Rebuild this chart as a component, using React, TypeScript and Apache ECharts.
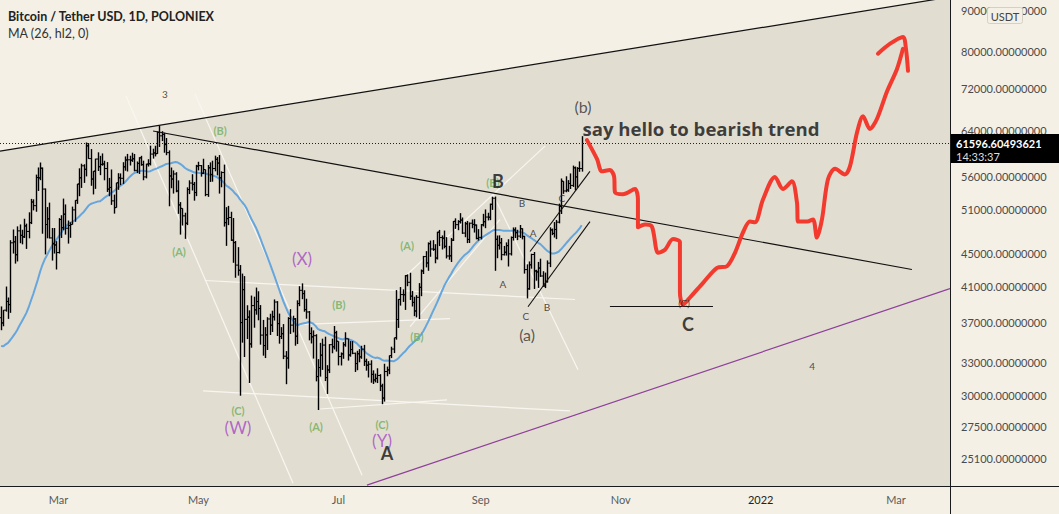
import React, { useEffect, useRef } from 'react';
import * as echarts from 'echarts';

// ---------- data ----------
const barsStart = '2021-01-09'; // first bar (used to warm up the MA)
const viewStart = '2021-02-04'; // first visible day
const viewDays = 414; // visible days incl. empty future area

// [open, high, low, close]
const jan2021 = [
  [40150, 41350, 38720, 40100], [40100, 41420, 35110, 38150], [38150, 38260, 30420, 35400], [35400, 36630, 32530, 34050],
  [34050, 37850, 32380, 37370], [37370, 40100, 36700, 39140], [39140, 39700, 34410, 36770], [36770, 37950, 35360, 36010],
  [36010, 36850, 33850, 35820], [35820, 37400, 34800, 36630], [36630, 37850, 35850, 35890], [35890, 36420, 33400, 35470],
  [35470, 35600, 30070, 30850], [30850, 33830, 28850, 33010], [33010, 33460, 31390, 32070], [32070, 32940, 30900, 32280],
  [32280, 34880, 31910, 32250], [32250, 32930, 30840, 32510], [32510, 32560, 29240, 30430], [30430, 33860, 29870, 33400],
  [33400, 38530, 31920, 34260], [34260, 34880, 32840, 34260], [34260, 34290, 32300, 33110],
];
const feb2021 = [
  [33110, 34720, 32300, 33520], [33520, 35980, 33420, 35510], [35510, 37660, 35360, 37470], [37470, 38700, 36160, 36920],
  [36920, 38300, 36570, 38290], [38290, 40960, 38130, 39250], [39250, 39700, 37350, 38900], [38900, 46750, 38000, 46400],
  [46400, 48200, 45000, 46530], [46530, 47310, 43730, 44850], [44850, 48630, 44000, 48010], [48010, 48900, 46350, 47400],
  [47400, 48160, 46200, 47200], [47200, 49700, 47050, 48690], [48690, 49010, 45600, 47930], [47930, 50620, 47000, 49150],
  [49150, 52600, 48950, 52130], [52130, 52530, 50900, 51590], [51590, 56370, 50700, 55900], [55900, 57530, 53800, 55840],
  [55840, 58350, 55480, 57410], [57410, 57530, 47620, 54090], [54090, 54180, 44890, 48890], [48890, 51380, 47000, 49680],
  [49680, 52040, 46980, 47050], [47050, 48400, 44110, 46280], [46280, 48400, 45000, 46120], [46120, 46620, 43000, 45130],
];
const mar2021 = [
  [45130, 49790, 45000, 49590], [49590, 50200, 47050, 48440], [48440, 52640, 48100, 50350], [50350, 51770, 47500, 48370],
  [48370, 49450, 46300, 48750], [48750, 49200, 47070, 48880], [48880, 51450, 48880, 50970], [50970, 52400, 49270, 52380],
  [52380, 54900, 51850, 54880], [54880, 57390, 53000, 55860], [55860, 58150, 54270, 57800], [57800, 58060, 55050, 57230],
  [57230, 61780, 56080, 61190], [61190, 61680, 58960, 59000], [59000, 60630, 54600, 55660], [55660, 56940, 53270, 56930],
  [56930, 58980, 54120, 58930], [58930, 60070, 56950, 57650], [57650, 59470, 56280, 58030], [58030, 59880, 57820, 58100],
  [58100, 58640, 55460, 57350], [57350, 58420, 53650, 54080], [54080, 55840, 53000, 54340], [54340, 57200, 51700, 52300],
  [52300, 53240, 50430, 51300], [51300, 55070, 51300, 55070], [55070, 56600, 53970, 55860], [55860, 56560, 54700, 55780],
  [55780, 58400, 54900, 57630], [57630, 59370, 57000, 58770], [58770, 59800, 56870, 58800],
];
const apr2021 = [
  [58800, 59490, 57850, 58740], [58740, 60000, 58450, 58970], [58970, 59790, 56900, 57060], [57060, 58520, 56600, 58200],
  [58200, 59240, 56480, 59130], [59130, 59470, 57810, 57990], [57990, 58650, 55470, 56000], [56000, 58150, 55770, 58080],
  [58080, 58900, 57680, 58140], [58140, 61220, 57870, 59770], [59770, 60690, 59000, 59960], [59960, 61200, 59370, 59840],
  [59840, 63770, 59800, 63580], [63580, 64850, 61000, 62960], [62960, 63800, 62020, 63200], [63200, 63520, 60000, 61410],
  [61410, 62570, 59580, 60010], [60010, 60400, 51500, 56150], [56150, 57520, 54220, 55660], [55660, 57050, 53400, 56470],
  [56470, 56760, 53600, 53800], [53800, 55450, 50400, 51700], [51700, 52120, 47500, 51190], [51190, 51200, 48750, 50110],
  [50110, 50560, 46930, 49070], [49070, 54360, 48810, 54020], [54020, 55460, 53320, 55030], [55030, 56430, 53870, 54820],
  [54820, 55200, 52330, 53560], [53560, 57960, 53010, 57750],
];
const may2021 = [
  [57750, 58470, 57050, 57830], [57830, 57930, 56040, 56580], [56580, 58980, 56460, 57190], [57190, 57200, 53000, 53240],
  [53240, 57940, 52900, 57470], [57470, 58370, 55200, 56400], [56400, 58650, 55240, 57350], [57350, 59500, 56900, 58880],
  [58880, 59260, 56250, 58250], [58250, 59600, 53400, 55860], [55860, 56900, 54370, 56700], [56700, 58000, 48600, 49150],
  [49150, 51370, 46000, 49720], [49720, 51560, 48800, 49880], [49880, 50700, 46650, 46760], [46760, 49800, 43830, 46430],
  [46430, 46640, 42000, 43540], [43540, 45830, 42250, 42910], [42910, 43550, 30000, 36960], [36960, 42500, 34900, 40600],
  [40600, 42200, 33500, 37300], [37300, 38830, 35260, 37540], [37540, 38270, 31110, 34770], [34770, 39920, 34400, 38790],
  [38790, 39790, 36420, 38320], [38320, 40840, 37800, 39240], [39240, 40410, 37200, 38470], [38470, 38850, 34700, 35660],
  [35660, 37240, 33630, 34610], [34610, 36480, 33400, 35680], [35680, 37530, 34180, 37340],
];
const jun2021 = [
  [37340, 37900, 35670, 36690], [36690, 38230, 35980, 37570], [37570, 39480, 37170, 39190], [39190, 39290, 35570, 36850],
  [36850, 37920, 34800, 35520], [35520, 36480, 35260, 35800], [35800, 36800, 33300, 33580], [33580, 34070, 31000, 33400],
  [33400, 37530, 32400, 37390], [37390, 38400, 35780, 36690], [36690, 37690, 35940, 37340], [37340, 37440, 34600, 35550],
  [35550, 39380, 34760, 39020], [39020, 41000, 38730, 40520], [40520, 41330, 39510, 40140], [40140, 40530, 38120, 38350],
  [38350, 39560, 37370, 38090], [38090, 38200, 35130, 35820], [35820, 36460, 34820, 35480], [35480, 36140, 33350, 35600],
  [35600, 35750, 31250, 31680], [31680, 33300, 28800, 32510], [32510, 34880, 31680, 33680], [33680, 35300, 32290, 34660],
  [34660, 35500, 31280, 31590], [31590, 32730, 30150, 32280], [32280, 34750, 32000, 34700], [34700, 35300, 33860, 34490],
  [34490, 36600, 34230, 35910], [35910, 36100, 34020, 35040],
];
const jul2021 = [
  [35040, 35040, 32710, 33540], [33540, 33940, 32700, 33800], [33800, 34950, 33330, 34690], [34690, 35950, 34500, 35290],
  [35290, 35290, 33160, 33690], [33690, 35060, 33530, 34220], [34220, 35060, 33770, 33860], [33860, 33920, 32100, 32880],
  [32880, 34100, 32260, 33810], [33810, 34260, 33000, 33510], [33510, 34590, 33330, 34260], [34260, 34680, 32660, 33090],
  [33090, 33340, 32220, 32730], [32730, 33110, 31600, 32820], [32820, 33190, 31130, 31880], [31880, 32250, 31020, 31380],
  [31380, 31950, 31160, 31520], [31520, 32440, 31100, 31780], [31780, 31900, 30400, 30840], [30840, 31040, 29280, 29800],
  [29800, 32860, 29500, 32140], [32140, 32600, 31710, 32290], [32290, 33650, 31900, 33640], [33640, 34500, 33400, 34270],
  [34270, 35400, 33880, 35400], [35400, 40550, 35200, 37280], [37280, 39540, 36400, 39480], [39480, 40900, 38790, 40030],
  [40030, 40630, 39200, 40010], [40010, 42320, 38320, 42240], [42240, 42410, 41000, 41460],
];
const aug2021 = [
  [41460, 42600, 39420, 39850], [39850, 40450, 38690, 39150], [39150, 39780, 37640, 38200], [38200, 39970, 37510, 39720],
  [39720, 41360, 37330, 40870], [40870, 43000, 39850, 42820], [42820, 44700, 42450, 44610], [44610, 45310, 43260, 43810],
  [43810, 46460, 42840, 46290], [46290, 46700, 44590, 45590], [45590, 46760, 45350, 45550], [45550, 46220, 43770, 44430],
  [44430, 47890, 44240, 47830], [47830, 48140, 45970, 47100], [47100, 47390, 45520, 47020], [47020, 48050, 45680, 45940],
  [45940, 47160, 44380, 44690], [44690, 46000, 44210, 44710], [44710, 47040, 43930, 46760], [46760, 49380, 46640, 49340],
  [49340, 49760, 48280, 48870], [48870, 49500, 48100, 49290], [49290, 50500, 49030, 49510], [49510, 49880, 47600, 47710],
  [47710, 49260, 47150, 48990], [48990, 49380, 46360, 46850], [46850, 49170, 46380, 49070], [49070, 49600, 48370, 48900],
  [48900, 49640, 47780, 48810], [48810, 48900, 46860, 46990], [46990, 48250, 46700, 47130],
];
const sep2021 = [
  [47130, 48950, 46850, 48850], [48850, 50400, 48620, 49280], [49280, 51040, 48380, 49940], [49940, 50560, 49460, 49920],
  [49920, 51900, 49500, 51790], [51790, 52920, 50970, 52700], [52700, 52950, 42840, 46870], [46870, 47380, 44410, 46080],
  [46080, 47400, 45510, 46400], [46400, 47040, 44150, 44850], [44850, 45990, 44750, 45170], [45170, 46460, 44740, 46030],
  [46030, 46880, 43370, 44960], [44960, 47250, 44750, 47110], [47110, 48480, 46700, 48140], [48140, 48500, 47040, 47760],
  [47760, 48160, 46760, 47300], [47300, 48820, 47050, 48310], [48310, 48370, 46860, 47260], [47260, 47340, 42500, 42990],
  [42990, 43640, 39600, 40690], [40690, 44000, 40580, 43580], [43580, 44980, 43100, 44880], [44880, 45200, 40680, 42820],
  [42820, 42970, 41650, 42700], [42700, 43940, 40800, 43180], [43180, 44350, 42100, 42210], [42210, 42790, 40930, 41030],
  [41030, 42620, 40780, 41520], [41520, 44130, 41420, 43790],
];
const oct2021 = [
  [43790, 48500, 43290, 48140], [48140, 48330, 47430, 47660], [47660, 49230, 47100, 48200], [48200, 49530, 46890, 49220],
  [49220, 51890, 49050, 51470], [51470, 55750, 50380, 55320], [55320, 55330, 53360, 53800], [53800, 56100, 53600, 53950],
  [53950, 55490, 53660, 54960], [54960, 56560, 54100, 54660], [54660, 57840, 54420, 57470], [57470, 57680, 53900, 56000],
  [56000, 57580, 54290, 57370], [57370, 58530, 56820, 57350], [57350, 62900, 56850, 61596.6],
];

const maPeriod = 26;
const lastPrice = 61596.60493621;
const lastPriceText = '61596.60493621';
const clockText = '14:33:37';
const yMin = 23186;
const yMax = 92763;
const yTicks = [90000, 80000, 72000, 64000, 56000, 51000, 45000, 41000, 37000, 33000, 30000, 27500, 25100];
const xTickLabels: Record<string, string> = {
  '2021-03-01': 'Mar', '2021-05-01': 'May', '2021-07-01': 'Jul', '2021-09-01': 'Sep',
  '2021-11-01': 'Nov', '2022-01-01': '2022', '2022-03-01': 'Mar',
};

// drawings, in [day index from viewStart, price]
const upperTrend = [[-0.5, 60280], [413.5, 93550]];
const downTrend = [[66.2, 63840], [396.9, 43000]];
const purpleTrend = [[159.4, 23240], [413.5, 40720]];
const targetLevel = [[265.3, 38670], [310.2, 38670]];
const channelUpper = [[230.5, 45270], [256.6, 56900]];
const channelLower = [[229.6, 38670], [256.6, 49300]];
const whiteLines = [
  [[54.4, 70560], [127.2, 23370]],
  [[84.5, 70970], [157.3, 23910]],
  [[88.8, 41670], [250.1, 39470]],
  [[88.0, 30410], [247.9, 28720]],
  [[139.0, 28880], [194.3, 29640]],
  [[128.9, 36740], [195.6, 37370]],
  [[176.0, 42150], [237.0, 61150]],
  [[178.2, 36530], [217.4, 49600]],
  [[214.3, 53300], [251.4, 32300]],
];
const redPath = [
  [255.3, 62200], [259.7, 58900], [261.8, 56900], [265.3, 57100], [267.1, 56100], [267.5, 53600], [271.0, 53300],
  [276.2, 54100], [277.5, 52500], [277.5, 48500], [280.6, 48900], [283.6, 48600], [286.3, 45100], [289.3, 45500],
  [292.8, 46900], [295.8, 46500], [295.8, 40300], [297.1, 38900], [300.2, 39700], [305.9, 41400], [312.0, 43200],
  [316.3, 43400], [319.8, 45100], [323.3, 47800], [326.3, 49300], [328.5, 49200], [332.0, 52500], [337.2, 56000],
  [340.7, 54100], [344.6, 55300], [346.8, 52100], [347.3, 49300], [351.2, 49300], [353.8, 49600], [355.5, 47100],
  [357.7, 49600], [360.3, 55600], [363.4, 57300], [367.7, 56400], [369.9, 57700], [373.0, 63600], [375.6, 66600],
  [378.6, 64200], [381.7, 66100], [386.0, 71400], [390.4, 76200], [393.0, 80700],
];
const redArrow = [[382.1, 79600], [387.4, 81900], [393.0, 83500], [394.3, 80700], [395.2, 75800]];

// [day index, price, text, style]
const labelsData: [number, number, string, string][] = [
  [71.4, 70970, '3', 'small'],
  [95.4, 63840, '(B)', 'green'],
  [77.5, 45270, '(A)', 'green'],
  [131.1, 44380, '(X)', 'purple'],
  [147.2, 38900, '(B)', 'green'],
  [103.2, 28720, '(C)', 'green'],
  [103.2, 27430, '(W)', 'purple'],
  [137.2, 27510, '(A)', 'green'],
  [166.0, 27670, '(C)', 'green'],
  [166.0, 26430, '(Y)', 'purple'],
  [168.1, 25470, 'A', 'big'],
  [176.9, 46060, '(A)', 'green'],
  [181.2, 35500, '(B)', 'green'],
  [214.3, 55160, '(B)', 'green'],
  [216.5, 55320, 'B', 'big'],
  [227.0, 51940, 'B', 'small'],
  [231.8, 47660, 'A', 'small'],
  [218.7, 41310, 'A', 'small'],
  [228.7, 37690, 'C', 'small'],
  [237.9, 38670, 'B', 'small'],
  [229.2, 35700, '(a)', 'mid'],
  [244.4, 52690, 'C', 'small'],
  [253.6, 68370, '(b)', 'mid'],
  [297.6, 39120, '(C)', 'small'],
  [299.3, 36850, 'C', 'big'],
  [353.4, 32670, '4', 'small'],
];
const headline: [number, number, string] = [253.1, 64380, 'say hello to bearish trend'];

// ---------- helpers ----------
const DAY = 86400000;
const isoToMs = (s: string) => Date.UTC(+s.slice(0, 4), +s.slice(5, 7) - 1, +s.slice(8, 10));
const msToIso = (ms: number) => new Date(ms).toISOString().slice(0, 10);

const FONT = 'Lato, "Open Sans", sans-serif';
const HEAD_FONT = '"Open Sans", "Noto Sans", sans-serif';

const labelStyles: Record<string, any> = {
  small: { color: '#222', fontSize: 10 },
  green: { color: '#6eae5c', fontSize: 11, fontWeight: 'bold' },
  purple: { color: '#a348c4', fontSize: 17 },
  big: { color: '#111', fontSize: 18, fontWeight: 'bold' },
  mid: { color: '#333', fontSize: 16 },
};

export default function App() {
  const ref = useRef<HTMLDivElement>(null);

  useEffect(() => {
    if (!ref.current) return;
    const chart = echarts.init(ref.current, undefined, { renderer: 'svg' });

    const bars = [...jan2021, ...feb2021, ...mar2021, ...apr2021, ...may2021, ...jun2021, ...jul2021, ...aug2021, ...sep2021, ...oct2021];
    const offset = Math.round((isoToMs(viewStart) - isoToMs(barsStart)) / DAY);
    const startMs = isoToMs(viewStart);
    const categories: string[] = [];
    for (let k = 0; k < viewDays; k++) categories.push(msToIso(startMs + k * DAY));

    const barData: number[][] = [];
    const maData: (number | null)[] = [];
    for (let j = offset; j < bars.length; j++) {
      const [o, h, l, c] = bars[j];
      barData.push([j - offset, o, h, l, c]);
      let s = 0;
      for (let k = j - maPeriod + 1; k <= j; k++) s += (bars[k][1] + bars[k][2]) / 2;
      maData.push(s / maPeriod);
    }

    const lineItem = (coords: number[][], color: string, width = 1, type: any = 'solid') => ({
      coords, lineStyle: { color, width, type, opacity: 1 },
    });

    const option: any = {
      animation: false,
      backgroundColor: '#f4f0e5',
      grid: { left: 0, right: 109, top: 0, bottom: 28, containLabel: false },
      xAxis: [
        {
          type: 'category',
          data: categories,
          boundaryGap: true,
          axisLine: { show: false },
          axisTick: { show: false },
          splitLine: { show: false },
          axisLabel: {
            interval: (_i: number, v: string) => !!xTickLabels[v],
            formatter: (v: string) => (v === '2022-01-01' ? '{y|2022}' : xTickLabels[v] || ''),
            color: '#5a5a5a',
            fontSize: 11,
            fontFamily: FONT,
            margin: 8,
            rich: { y: { color: '#222', fontSize: 11, fontFamily: FONT } },
          },
        },
        { type: 'value', min: -0.5, max: viewDays - 0.5, show: false },
      ],
      yAxis: {
        type: 'log',
        logBase: 10,
        min: yMin,
        max: yMax,
        position: 'right',
        axisLine: { show: false },
        axisTick: { show: false },
        axisLabel: { show: false },
        splitLine: { show: false },
      },
      series: [
        {
          type: 'line',
          xAxisIndex: 1,
          data: upperTrend,
          symbol: 'none',
          lineStyle: { width: 0 },
          areaStyle: { color: '#e2ddd1', opacity: 1, origin: 'start' },
          z: 0,
          silent: true,
        },
        {
          type: 'lines',
          coordinateSystem: 'cartesian2d',
          xAxisIndex: 1,
          data: whiteLines.map((c) => lineItem(c, '#f8f6f1', 1.2)),
          z: 1,
          silent: true,
        },
        {
          type: 'line',
          data: maData,
          symbol: 'none',
          lineStyle: { color: '#66a6dc', width: 2 },
          z: 2,
          silent: true,
        },
        {
          type: 'custom',
          data: barData,
          encode: { x: 0, y: [1, 2, 3, 4] },
          z: 3,
          silent: true,
          renderItem: (_p: any, api: any) => {
            const idx = api.value(0);
            const o = api.coord([idx, api.value(1)]);
            const h = api.coord([idx, api.value(2)]);
            const l = api.coord([idx, api.value(3)]);
            const c = api.coord([idx, api.value(4)]);
            const x = Math.round(h[0]) + 0.5;
            return {
              type: 'group',
              children: [
                { type: 'line', shape: { x1: x, y1: h[1], x2: x, y2: l[1] }, style: { stroke: '#000', lineWidth: 1.4 } },
                { type: 'line', shape: { x1: x - 1.5, y1: o[1], x2: x, y2: o[1] }, style: { stroke: '#000', lineWidth: 1 } },
                { type: 'line', shape: { x1: x, y1: c[1], x2: x + 1.5, y2: c[1] }, style: { stroke: '#000', lineWidth: 1 } },
              ],
            };
          },
        },
        {
          type: 'lines',
          coordinateSystem: 'cartesian2d',
          xAxisIndex: 1,
          data: [
            lineItem(upperTrend, '#111', 1.2),
            lineItem(downTrend, '#111', 1.2),
            lineItem(purpleTrend, '#8e3f9a', 1.2),
            lineItem(targetLevel, '#111', 1.2),
            lineItem(channelUpper, '#111', 1.1),
            lineItem(channelLower, '#111', 1.1),
            lineItem([[-0.5, lastPrice], [viewDays - 0.5, lastPrice]], '#222', 1, [1, 2]),
          ],
          z: 4,
          silent: true,
        },
        {
          type: 'line',
          xAxisIndex: 1,
          data: redPath,
          symbol: 'none',
          smooth: 0.3,
          lineStyle: { color: '#f23a2e', width: 4, cap: 'round', join: 'round' },
          z: 6,
          silent: true,
        },
        {
          type: 'line',
          xAxisIndex: 1,
          data: redArrow,
          symbol: 'none',
          smooth: 0.3,
          lineStyle: { color: '#f23a2e', width: 4, cap: 'round', join: 'round' },
          z: 6,
          silent: true,
        },
        {
          type: 'scatter',
          xAxisIndex: 1,
          symbolSize: 1,
          itemStyle: { color: 'rgba(0,0,0,0)' },
          z: 7,
          silent: true,
          data: [
            ...labelsData.map(([i, p, t, s]) => ({
              value: [i, p],
              label: { show: true, position: 'inside', formatter: t, fontFamily: FONT, ...labelStyles[s] },
            })),
            {
              value: [headline[0], headline[1]],
              label: {
                show: true, position: 'right', distance: 0, formatter: headline[2],
                fontFamily: HEAD_FONT, fontSize: 18.6, fontWeight: 'bold', color: '#111',
              },
            },
          ],
        },
      ],
    };

    chart.setOption(option);

    const yPix = (v: number) => chart.convertToPixel({ yAxisIndex: 0 }, v) as number;
    const priceY = yPix(lastPrice);
    const graphic: any[] = [
      { type: 'text', x: 8, y: 16, style: { text: 'Bitcoin / Tether USD, 1D, POLONIEX', fill: '#222', font: `bold 12.5px ${FONT}`, verticalAlign: 'middle' } },
      { type: 'text', x: 8, y: 33, style: { text: 'MA (26, hl2, 0)', fill: '#333', font: `12.5px ${FONT}`, verticalAlign: 'middle' } },
      { type: 'line', shape: { x1: 950.5, y1: 0, x2: 950.5, y2: 514 }, style: { stroke: '#1a1a1a', lineWidth: 1 } },
      { type: 'line', shape: { x1: 0, y1: 486.5, x2: 1059, y2: 486.5 }, style: { stroke: '#1a1a1a', lineWidth: 1 } },
      ...yTicks.map((v) => ({
        type: 'text', x: 961, y: yPix(v),
        style: { text: v.toFixed(8), fill: '#4a4a4a', font: `11px ${FONT}`, verticalAlign: 'middle' },
      })),
      { type: 'rect', shape: { x: 951, y: priceY - 9.5, width: 108, height: 29 }, style: { fill: '#000' } },
      { type: 'text', x: 956, y: priceY, style: { text: lastPriceText, fill: '#fff', font: `bold 11px ${FONT}`, verticalAlign: 'middle' } },
      { type: 'text', x: 956, y: priceY + 13, style: { text: clockText, fill: '#ddd', font: `11px ${FONT}`, verticalAlign: 'middle' } },
      { type: 'rect', shape: { x: 987.5, y: 7.5, width: 35, height: 16, r: 2 }, style: { fill: '#f4f0e5', stroke: '#d5d0c4', lineWidth: 1 } },
      { type: 'text', x: 1005, y: 16, style: { text: 'USDT', fill: '#444', font: `11px ${FONT}`, align: 'center', verticalAlign: 'middle' } },
    ];
    chart.setOption({ graphic });

    return () => chart.dispose();
  }, []);

  return <div ref={ref} style={{ position: 'fixed', left: 0, top: 0, width: 1059, height: 514 }} />;
}
